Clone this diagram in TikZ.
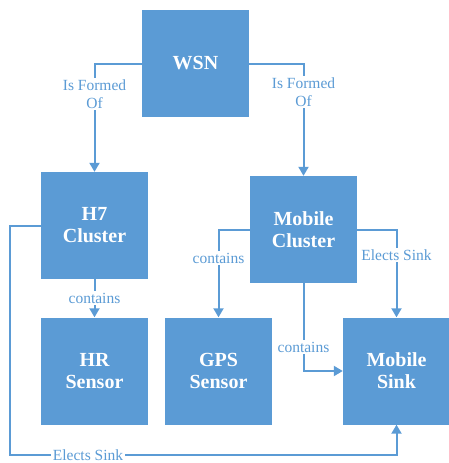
\documentclass[tikz,border=0pt]{standalone}
\usepackage{fontspec}
\setmainfont{Liberation Serif}
\newfontfamily\lserif{Liberation Serif}
\usetikzlibrary{arrows.meta}
\definecolor{boxblue}{HTML}{5B9BD5}
\tikzset{
  box/.style={fill=boxblue, draw=none, minimum width=107pt, minimum height=107pt,
    text=white, font=\lserif\fontsize{20}{22}\selectfont\bfseries, align=center, inner sep=0pt},
  conn/.style={draw=boxblue, line width=2pt, -{Triangle[width=10pt,length=9pt]}},
  lbl/.style={fill=white, text=boxblue, font=\lserif\fontsize{15.5}{18}\selectfont, align=center, inner sep=1.5pt}
}
\begin{document}
\begin{tikzpicture}[x=1pt,y=-1pt]
\useasboundingbox (0,0) rectangle (449,463);
\node[box] (wsn) at (195.5,63.5) {WSN};
\node[box] (h7) at (94.5,225.5) {H7\\Cluster};
\node[box] (mc) at (303.5,229.5) {Mobile\\Cluster};
\node[box] (hr) at (94.5,371) {HR\\Sensor};
\node[box] (gps) at (218.5,371) {GPS\\Sensor};
\node[box] (sink) at (396.5,371) {Mobile\\Sink};
\coordinate (c1) at (10,225.5);
\coordinate (c2) at (10,455);
\draw[conn] (wsn.west) -| (h7.north);
\draw[conn] (wsn.east) -| (mc.north);
\draw[conn] (h7.south) -- (hr.north);
\draw[conn] (mc.west) -| (gps.north);
\draw[conn] (mc.east) -| (sink.north);
\draw[conn] (mc.south) |- (sink.west);
\draw[conn] (h7.west) -- (c1) -- (c2) -| (sink.south);
\node[lbl] (l1) at (94.5,94) {Is Formed\\Of};
\node[lbl] (l2) at (303.5,92) {Is Formed\\Of};
\node[lbl] (l3) at (94.5,298) {contains};
\node[lbl] (l4) at (218.5,258) {contains};
\node[lbl] (l5) at (396.5,255) {Elects Sink};
\node[lbl] (l6) at (303.5,347) {contains};
\node[lbl] (l7) at (88,455) {Elects Sink};
\end{tikzpicture}
\end{document}
